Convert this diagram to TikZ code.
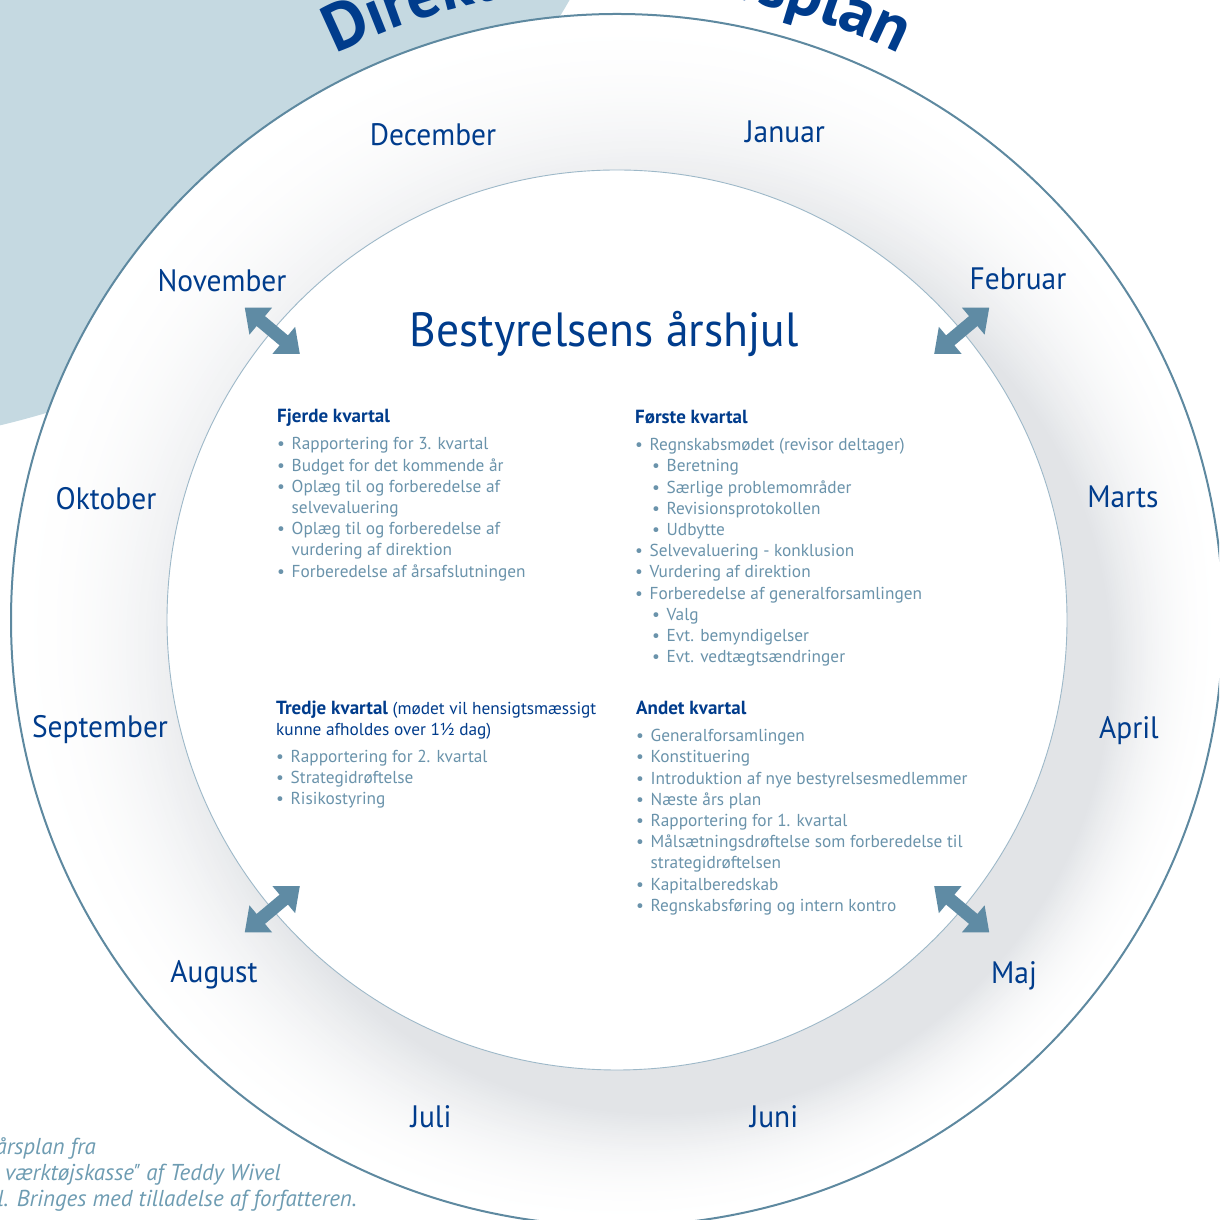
\documentclass[tikz,border=0pt]{standalone}
\usepackage{fontspec}
\setmainfont{PT Sans}
\newfontfamily\narrowfont[FakeStretch=0.95]{PT Sans}
\usetikzlibrary{positioning, arrows.meta, decorations.text}

\definecolor{wheelblue}{HTML}{003C8C}
\definecolor{itemblue}{HTML}{6A93AB}
\definecolor{arrowblue}{HTML}{5F8BA4}
\definecolor{rimblue}{HTML}{5E89A0}
\definecolor{innerrim}{HTML}{9DB8C8}
\definecolor{paleblue}{HTML}{C5D9E1}
\definecolor{ringgray}{HTML}{E2E4E7}
\definecolor{notegray}{HTML}{6E9CB2}

\newcommand{\itm}[1]{\makebox[14.5pt][l]{\textbullet}#1}
\newcommand{\subitm}[1]{\hspace*{17pt}\makebox[14.5pt][l]{\textbullet}#1}
\newcommand{\cont}[1]{\hspace*{14.5pt}#1}
\newcommand{\qhead}[1]{{\fontsize{19}{21.2}\selectfont\bfseries\color{wheelblue}#1}}

\begin{document}
\begin{tikzpicture}[x=1pt, y=1pt,
  month/.style={font=\narrowfont\fontsize{31}{31}\selectfont, text=wheelblue, anchor=base, inner sep=0pt},
  quarter/.style={font=\fontsize{17.3}{21.2}\selectfont, text=itemblue, align=left, anchor=north west, inner sep=0pt},
  bigarrow/.style={draw=arrowblue, line width=13pt, {Triangle[length=21pt,width=34pt]}-{Triangle[length=21pt,width=34pt]}},
  note/.style={font=\itshape\addfontfeatures{Ligatures=TeXOff}\fontsize{23}{26}\selectfont, text=notegray, anchor=base east, inner sep=0pt}]

\useasboundingbox (0,0) rectangle (1219,1220);
\clip (0,0) rectangle (1219,1220);
\coordinate (C) at (617,600);

% the other wheel behind
\fill[paleblue] (-210,1670) circle (900);

% ring of months, shaded darker towards the lower right
\foreach \i in {0,...,52} {
  \pgfmathsetmacro\r{606-3*\i}
  \pgfmathsetmacro\d{0.4*(606-\r)}
  \pgfmathsetmacro\p{100*((606-\r)/156)^2}
  \fill[ringgray!\p!white] ([shift={(-45:\d)}]C) circle (\r);
}
\draw[rimblue, line width=2pt] (C) circle (606);
\draw[innerrim, line width=0.9pt, fill=white] (C) circle (450);

% title on the arc
\path[decorate, decoration={text along path, text align=center, text color=wheelblue,
  text={|\bfseries\fontsize{66}{66}\selectfont|Direktionens årsplan}}]
  ([shift={(150:632)}]C) arc[start angle=150, end angle=30, radius=632];

% months
\node[month] (dec) at (433,1074) {December};
\node[month] (jan) at (785,1077) {Januar};
\node[month] (nov) at (222,928) {November};
\node[month] (feb) at (1018,930) {Februar};
\node[month] (okt) at (106,710) {Oktober};
\node[month] (mar) at (1123,712) {Marts};
\node[month] (sep) at (100,482) {September};
\node[month] (apr) at (1129,481) {April};
\node[month] (aug) at (214,237) {August};
\node[month] (maj) at (1014,236) {Maj};
\node[month] (jul) at (431,92) {Juli};
\node[month] (jun) at (774,92) {Juni};

\node[font=\narrowfont\fontsize{48}{48}\selectfont, text=wheelblue, anchor=base, inner sep=0pt] (title) at (604,873) {Bestyrelsens årshjul};

% arrows across the inner rim
\foreach \a in {40,140,220,320} {
  \coordinate (in\a) at ([shift={(\a:414)}]C);
  \coordinate (out\a) at ([shift={(\a:486)}]C);
  \draw[bigarrow] (in\a) -- (out\a);
}

% quarters
\node[quarter] (q4) at (277,811) {\qhead{Fjerde kvartal}\\[6pt]
  \itm{Rapportering for 3. kvartal}\\
  \itm{Budget for det kommende år}\\
  \itm{Oplæg til og forberedelse af}\\
  \cont{selvevaluering}\\
  \itm{Oplæg til og forberedelse af}\\
  \cont{vurdering af direktion}\\
  \itm{Forberedelse af årsafslutningen}};

\node[quarter] (q1) at (635,810) {\qhead{Første kvartal}\\[6pt]
  \itm{Regnskabsmødet (revisor deltager)}\\
  \subitm{Beretning}\\
  \subitm{Særlige problemområder}\\
  \subitm{Revisionsprotokollen}\\
  \subitm{Udbytte}\\
  \itm{Selvevaluering - konklusion}\\
  \itm{Vurdering af direktion}\\
  \itm{Forberedelse af generalforsamlingen}\\
  \subitm{Valg}\\
  \subitm{Evt. bemyndigelser}\\
  \subitm{Evt. vedtægtsændringer}};

\node[quarter] (q3) at (276,519) {\qhead{Tredje kvartal} {\color{wheelblue}(mødet vil hensigtsmæssigt}\\
  {\color{wheelblue}kunne afholdes over 1½ dag)}\\[5pt]
  \itm{Rapportering for 2. kvartal}\\
  \itm{Strategidrøftelse}\\
  \itm{Risikostyring}};

\node[quarter] (q2) at (636,519) {\qhead{Andet kvartal}\\[6pt]
  \itm{Generalforsamlingen}\\
  \itm{Konstituering}\\
  \itm{Introduktion af nye bestyrelsesmedlemmer}\\
  \itm{Næste års plan}\\
  \itm{Rapportering for 1. kvartal}\\
  \itm{Målsætningsdrøftelse som forberedelse til}\\
  \cont{strategidrøftelsen}\\
  \itm{Kapitalberedskab}\\
  \itm{Regnskabsføring og intern kontro}};

% credit note
\node[note] (note1) at (96,65) {årsplan fra};
\node[note] (note2) at (281,39) {værktøjskasse" af Teddy Wivel};
\node[note] (note3) at (357,13) {l. Bringes med tilladelse af forfatteren.};
\end{tikzpicture}
\end{document}
